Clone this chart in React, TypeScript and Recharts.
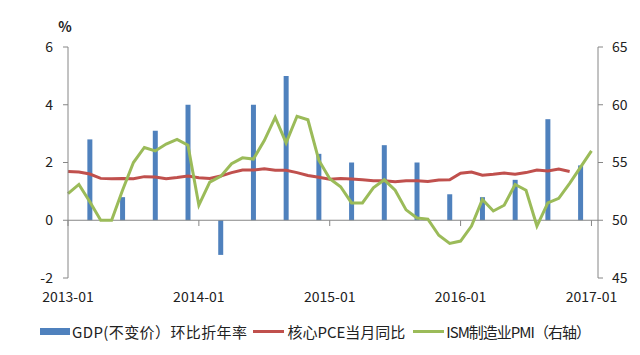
import React from 'react';
import {
  ComposedChart,
  Bar,
  Line,
  XAxis,
  YAxis,
  ReferenceLine,
  Legend,
} from 'recharts';

const months = [
  '2013-01', '2013-02', '2013-03', '2013-04', '2013-05', '2013-06', '2013-07', '2013-08', '2013-09', '2013-10', '2013-11', '2013-12',
  '2014-01', '2014-02', '2014-03', '2014-04', '2014-05', '2014-06', '2014-07', '2014-08', '2014-09', '2014-10', '2014-11', '2014-12',
  '2015-01', '2015-02', '2015-03', '2015-04', '2015-05', '2015-06', '2015-07', '2015-08', '2015-09', '2015-10', '2015-11', '2015-12',
  '2016-01', '2016-02', '2016-03', '2016-04', '2016-05', '2016-06', '2016-07', '2016-08', '2016-09', '2016-10', '2016-11', '2016-12',
  '2017-01',
];

// GDP (constant price) QoQ annualised, placed on quarter-end months
const gdp: (number | null)[] = [
  null, null, 2.8, null, null, 0.8, null, null, 3.1, null, null, 4.0,
  null, null, -1.2, null, null, 4.0, null, null, 5.0, null, null, 2.3,
  null, null, 2.0, null, null, 2.6, null, null, 2.0, null, null, 0.9,
  null, null, 0.8, null, null, 1.4, null, null, 3.5, null, null, 1.9,
  null,
];

// core PCE YoY
const corePce: (number | null)[] = [
  1.69, 1.67, 1.60, 1.45, 1.44, 1.45, 1.44, 1.51, 1.50, 1.44, 1.48, 1.53,
  1.47, 1.45, 1.53, 1.65, 1.74, 1.74, 1.78, 1.73, 1.73, 1.65, 1.55, 1.49,
  1.42, 1.45, 1.43, 1.40, 1.37, 1.37, 1.33, 1.37, 1.37, 1.34, 1.39, 1.40,
  1.63, 1.67, 1.56, 1.59, 1.64, 1.59, 1.65, 1.74, 1.71, 1.77, 1.69, null,
  null,
];

// ISM manufacturing PMI (right axis)
const ismPmi = [
  52.3, 53.1, 51.6, 50.0, 50.0, 52.6, 55.0, 56.3, 56.0, 56.6, 57.0, 56.5,
  51.3, 53.3, 53.8, 54.9, 55.4, 55.3, 56.9, 58.9, 56.7, 59.0, 58.7, 55.2,
  53.6, 52.9, 51.5, 51.5, 52.8, 53.5, 52.6, 50.9, 50.2, 50.1, 48.7, 48.0,
  48.2, 49.5, 51.8, 50.8, 51.3, 53.1, 52.6, 49.5, 51.5, 51.9, 53.2, 54.6,
  56.0,
];

const xTicks = [0, 12, 24, 36, 48];
const leftTicks = [-2, 0, 2, 4, 6];
const rightTicks = [45, 50, 55, 60, 65];

const data = months.map((m, i) => ({
  idx: i,
  month: m,
  gdp: gdp[i],
  pce: corePce[i],
  pmi: ismPmi[i],
}));

const BLUE = '#4F81BD';
const RED = '#C0504D';
const GREEN = '#9BBB59';
const AXIS = '#868686';
const FONT = '"Noto Sans CJK SC", "Noto Sans", sans-serif';

const LegendBox = () => (
  <div
    style={{
      height: 40,
      boxSizing: 'border-box',
      paddingTop: 6,
      fontFamily: FONT,
      fontSize: 15,
      color: '#222',
    }}
  >
    <div style={{ display: 'flex', alignItems: 'center', height: 20, paddingLeft: 40, whiteSpace: 'nowrap' }}>
      <span style={{ display: 'inline-block', width: 30, height: 7, background: BLUE, marginRight: 2 }} />
      <span style={{ marginRight: 6, letterSpacing: 0.4 }}>GDP(不变价）环比折年率</span>
      <span style={{ display: 'inline-block', width: 31, height: 3, background: RED, marginRight: 3 }} />
      <span style={{ marginRight: 8 }}>核心PCE当月同比</span>
      <span style={{ display: 'inline-block', width: 31, height: 3, background: GREEN, marginRight: 2 }} />
      <span style={{ letterSpacing: -1 }}>ISM制造业PMI（右轴）</span>
    </div>
  </div>
);

const tickStyle = { fontSize: 14, fill: '#222', fontFamily: FONT };

const App = () => {
  return (
    <div style={{ position: 'absolute', left: 0, top: 0, width: 640, height: 355, background: '#fff' }}>
      <ComposedChart
        width={640}
        height={355}
        data={data}
        margin={{ top: 47, right: 0, bottom: 0, left: 0 }}
      >
        <XAxis
          dataKey="idx"
          type="number"
          domain={[0, 48.6]}
          ticks={xTicks}
          tickFormatter={(i: number) => months[i]}
          axisLine={false}
          tickLine={false}
          tickMargin={8}
          height={37}
          tick={tickStyle}
          interval={0}
        />
        <YAxis
          yAxisId="left"
          domain={[-2, 6]}
          ticks={leftTicks}
          width={68}
          axisLine={{ stroke: AXIS }}
          tickLine={{ stroke: AXIS }}
          tickSize={5}
          tickMargin={10}
          tick={tickStyle}
          label={{
            content: (props: any) => {
              const vb = props.viewBox || { x: 0, y: 47, width: 68 };
              return (
                <text
                  x={vb.x + vb.width - 3}
                  y={vb.y - 15}
                  textAnchor="middle"
                  fontSize={14}
                  fontWeight="bold"
                  fontFamily={FONT}
                  fill="#222"
                >
                  %
                </text>
              );
            },
          }}
        />
        <YAxis
          yAxisId="right"
          orientation="right"
          domain={[45, 65]}
          ticks={rightTicks}
          width={42}
          axisLine={{ stroke: AXIS }}
          tickLine={{ stroke: AXIS }}
          tickSize={5}
          tickMargin={9}
          tick={tickStyle}
        />
        <ReferenceLine yAxisId="left" y={0} stroke={AXIS} />
        {xTicks.map((t) => (
          <ReferenceLine
            key={t}
            yAxisId="left"
            segment={[{ x: t, y: 0 }, { x: t, y: -0.2 }]}
            stroke={AXIS}
          />
        ))}
        <Bar yAxisId="left" dataKey="gdp" fill={BLUE} barSize={5} isAnimationActive={false} />
        <Line
          yAxisId="left"
          type="linear"
          dataKey="pce"
          stroke={RED}
          strokeWidth={3}
          dot={false}
          isAnimationActive={false}
        />
        <Line
          yAxisId="right"
          type="linear"
          dataKey="pmi"
          stroke={GREEN}
          strokeWidth={3}
          dot={false}
          isAnimationActive={false}
        />
        <Legend verticalAlign="bottom" content={<LegendBox />} />
      </ComposedChart>
    </div>
  );
};

export default App;
